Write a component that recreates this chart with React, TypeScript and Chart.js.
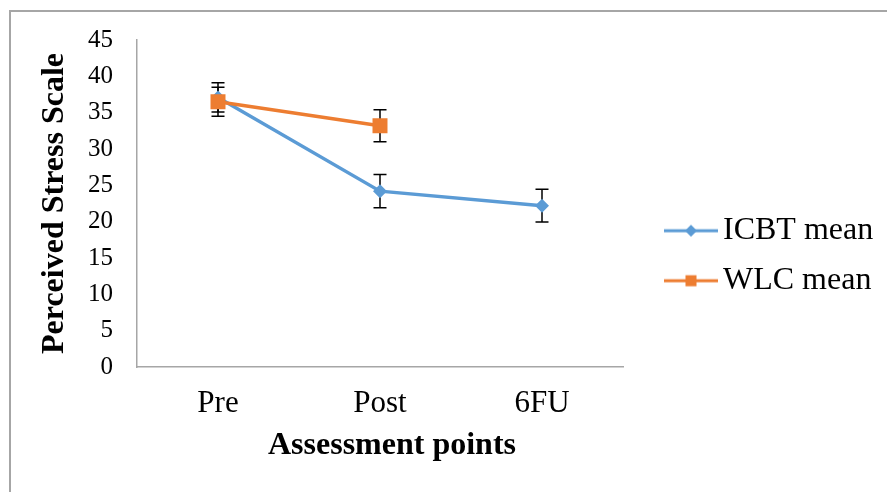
import React, { useEffect, useRef } from 'react';
import { Chart, registerables } from 'chart.js';

Chart.register(...registerables);

// ---- data ----
const categories = ['Pre', 'Post', '6FU'];
const seriesNames = ['ICBT mean', 'WLC mean'];
const icbtMean = [37.1, 24.2, 22.2];
const icbtErr = [2.0, 2.3, 2.25];
const wlcMean: (number | null)[] = [36.5, 33.2, null];
const wlcErr: (number | null)[] = [2.0, 2.2, null];
const yMin = 0;
const yMax = 45;
const yStep = 5;
const xTitle = 'Assessment points';
const yTitle = 'Perceived Stress Scale';

const BLUE = '#5B9BD5';
const ORANGE = '#ED7D31';
const AXIS = '#a6a6a6';
const FONT = "'Liberation Serif', 'Times New Roman', serif";

function legendImage(color: string, shape: 'diamond' | 'square') {
  const c = document.createElement('canvas');
  c.width = 88;
  c.height = 16;
  const g = c.getContext('2d')!;
  g.strokeStyle = color;
  g.lineWidth = 3;
  g.beginPath();
  g.moveTo(34, 8);
  g.lineTo(88, 8);
  g.stroke();
  g.fillStyle = color;
  if (shape === 'diamond') {
    g.beginPath();
    g.moveTo(61, 2);
    g.lineTo(67, 8);
    g.lineTo(61, 14);
    g.lineTo(55, 8);
    g.closePath();
    g.fill();
  } else {
    g.fillRect(55.5, 2.5, 11, 11);
  }
  return c;
}

const errorBars = {
  id: 'errorBars',
  beforeDatasetsDraw(chart: any) {
    const { ctx, scales } = chart;
    const x = scales.x;
    const y = scales.y;
    ctx.save();
    ctx.strokeStyle = '#000';
    ctx.lineWidth = 1.5;
    const sets: [(number | null)[], (number | null)[]][] = [
      [icbtMean, icbtErr],
      [wlcMean, wlcErr],
    ];
    sets.forEach(([m, e]) => {
      m.forEach((v, i) => {
        const err = e[i];
        if (v == null || err == null) return;
        const px = x.getPixelForValue(i);
        const top = y.getPixelForValue(v + err);
        const bot = y.getPixelForValue(v - err);
        ctx.beginPath();
        ctx.moveTo(px, top);
        ctx.lineTo(px, bot);
        ctx.moveTo(px - 6.5, top);
        ctx.lineTo(px + 6.5, top);
        ctx.moveTo(px - 6.5, bot);
        ctx.lineTo(px + 6.5, bot);
        ctx.stroke();
      });
    });
    ctx.restore();
  },
};

export default function App() {
  const ref = useRef<HTMLCanvasElement>(null);

  useEffect(() => {
    if (!ref.current) return;
    const imgs = [legendImage(BLUE, 'diamond'), legendImage(ORANGE, 'square')];
    const chart = new Chart(ref.current, {
      type: 'line',
      data: {
        labels: categories,
        datasets: [
          {
            label: seriesNames[0],
            data: icbtMean,
            borderColor: BLUE,
            backgroundColor: BLUE,
            borderWidth: 3.5,
            pointStyle: 'rectRot',
            pointRadius: 7,
            pointBorderWidth: 0,
            pointBackgroundColor: BLUE,
            tension: 0,
            order: 1,
          },
          {
            label: seriesNames[1],
            data: wlcMean,
            borderColor: ORANGE,
            backgroundColor: ORANGE,
            borderWidth: 3.5,
            pointStyle: 'rect',
            pointRadius: 10.6,
            pointBorderWidth: 0,
            pointBackgroundColor: ORANGE,
            tension: 0,
            spanGaps: false,
            order: 0,
          },
        ],
      },
      options: {
        animation: false,
        responsive: false,
        devicePixelRatio: 1,
        layout: { padding: { left: 35.8, top: 40, right: 4, bottom: 26.6 } },
        scales: {
          x: {
            type: 'category',
            offset: true,
            grid: { display: true, drawOnChartArea: false, drawTicks: false },
            border: { display: true, color: AXIS, width: 1.5 },
            ticks: { color: '#000', font: { family: FONT, size: 31 }, padding: 18 },
            title: {
              display: true,
              text: '\u00a0\u00a0\u00a0' + xTitle,
              color: '#000',
              font: { family: FONT, size: 32, weight: 'bold' },
              padding: { top: -13.2, bottom: 0 },
            },
          },
          y: {
            min: yMin,
            max: yMax,
            grid: { display: true, drawOnChartArea: false, drawTicks: false },
            border: { display: true, color: AXIS, width: 1.5 },
            ticks: { stepSize: yStep, color: '#000', font: { family: FONT, size: 25 }, padding: 24 },
            title: {
              display: true,
              text: yTitle,
              color: '#000',
              font: { family: FONT, size: 32, weight: 'bold' },
              padding: { top: 0, bottom: -10.2 },
            },
          },
        },
        plugins: {
          tooltip: { enabled: false },
          legend: {
            position: 'right',
            maxWidth: 260,
            title: { display: true, text: '', font: { size: 5 }, padding: 0 },
            labels: {
              usePointStyle: true,
              pointStyleWidth: 66,
              padding: 18,
              color: '#000',
              font: { family: FONT, size: 32 },
              generateLabels: () =>
                seriesNames.map((name, i) => ({
                  text: name,
                  pointStyle: imgs[i] as any,
                  fillStyle: i === 0 ? BLUE : ORANGE,
                  strokeStyle: i === 0 ? BLUE : ORANGE,
                  lineWidth: 0,
                  hidden: false,
                  datasetIndex: i,
                  fontColor: '#000',
                })),
            },
          },
        },
      } as any,
      plugins: [errorBars],
    });
    return () => chart.destroy();
  }, []);

  return (
    <div style={{ position: 'fixed', left: 0, top: 0, width: 887, height: 492, background: '#fff', overflow: 'hidden' }}>
      <div
        style={{
          position: 'absolute',
          left: 9,
          top: 10,
          width: 900,
          height: 500,
          borderTop: '2px solid #a6a6a6',
          borderLeft: '2px solid #a6a6a6',
          boxSizing: 'border-box',
        }}
      />
      <canvas ref={ref} width={887} height={492} style={{ position: 'absolute', left: 0, top: 0, width: 887, height: 492 }} />
    </div>
  );
}
